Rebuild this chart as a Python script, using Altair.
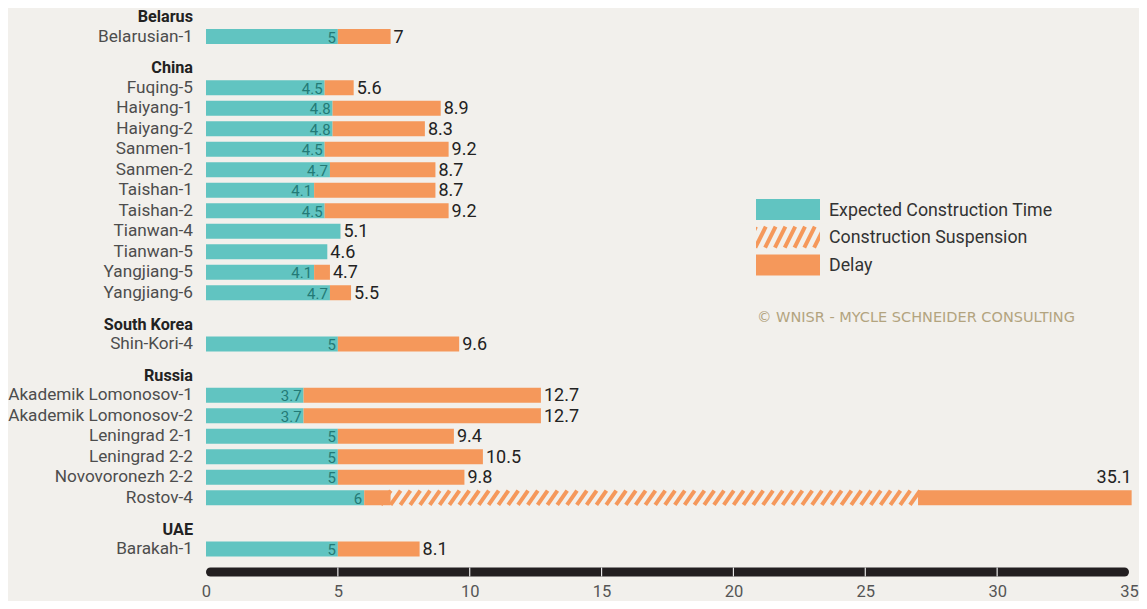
import altair as alt
import pandas as pd
import numpy as np

# ---------------- data ----------------
groups = ["Belarus", "China", "South Korea", "Russia", "UAE"]
plants = [
    ["Belarusian-1"],
    ["Fuqing-5", "Haiyang-1", "Haiyang-2", "Sanmen-1", "Sanmen-2", "Taishan-1",
     "Taishan-2", "Tianwan-4", "Tianwan-5", "Yangjiang-5", "Yangjiang-6"],
    ["Shin-Kori-4"],
    ["Akademik Lomonosov-1", "Akademik Lomonosov-2", "Leningrad 2-1",
     "Leningrad 2-2", "Novovoronezh 2-2", "Rostov-4"],
    ["Barakah-1"],
]
expected = [
    [5],
    [4.5, 4.8, 4.8, 4.5, 4.7, 4.1, 4.5, None, None, 4.1, 4.7],
    [5],
    [3.7, 3.7, 5, 5, 5, 6],
    [5],
]
total = [
    [7],
    [5.6, 8.9, 8.3, 9.2, 8.7, 8.7, 9.2, 5.1, 4.6, 4.7, 5.5],
    [9.6],
    [12.7, 12.7, 9.4, 10.5, 9.8, 35.1],
    [8.1],
]
suspension_plant = "Rostov-4"
suspension_range = [7, 27]

legend_labels = ["Expected Construction Time", "Construction Suspension", "Delay"]
x_ticks = [0, 5, 10, 15, 20, 25, 30, 35]
credit = "© WNISR - MYCLE SCHNEIDER CONSULTING"

# ---------------- styles ----------------
BG = "#f2f0ec"
TEAL = "#61c4c1"
ORANGE = "#f5985b"
DARK_TEAL = "#237a76"
FONT = "Roboto"

W = 923
H = 560
PX_PER_UNIT = W / 35.0
PITCH = 20.5          # pixels per row
TOP_PAD = 4

# ---------------- build tables ----------------
label_rows, seg_rows, plant_rows = [], [], []
p = 0.0
for g, names, exps, tots in zip(groups, plants, expected, total):
    label_rows.append({"label": g, "pos": p, "kind": "header"})
    p += 1
    for n, e, t in zip(names, exps, tots):
        label_rows.append({"label": n, "pos": p, "kind": "plant"})
        teal_end = e if e is not None else t
        seg_rows.append({"name": n, "pos": p, "start": 0, "end": teal_end, "kind": legend_labels[0]})
        if n == suspension_plant:
            seg_rows.append({"name": n, "pos": p, "start": teal_end, "end": suspension_range[0], "kind": legend_labels[2]})
            seg_rows.append({"name": n, "pos": p, "start": suspension_range[1], "end": t, "kind": legend_labels[2]})
            susp_pos = p
        elif t > teal_end:
            seg_rows.append({"name": n, "pos": p, "start": teal_end, "end": t, "kind": legend_labels[2]})
        plant_rows.append({"name": n, "pos": p, "expected": e, "total": t})
        p += 1
    p += 0.5

labels_df = pd.DataFrame(label_rows)
segs_df = pd.DataFrame(seg_rows)
plants_df = pd.DataFrame(plant_rows)

# stripes for suspension (decoration)
STEP_PX = 9.8
RUN_PX = 10.0
step_u = STEP_PX / PX_PER_UNIT
run_u = RUN_PX / PX_PER_UNIT
s_vals = np.arange(suspension_range[0] - step_u, suspension_range[1], step_u)
stripes_df = pd.DataFrame({"s": s_vals, "e": s_vals + run_u, "pos": susp_pos})

d0 = -(8.0 - TOP_PAD) / PITCH
d1 = d0 + H / PITCH

xscale = alt.Scale(domain=[0, 35], nice=False, zero=False, padding=0)
yscale = alt.Scale(domain=[d0, d1], reverse=True, nice=False, zero=False, padding=0)

xaxis = alt.Axis(values=x_ticks, domain=False, ticks=False, tickSize=0, grid=False,
                 labelFont=FONT, labelFontSize=16.5, labelColor="#555555",
                 labelPadding=11, labelFlush=False, title=None, format="d")

# ---------------- layers ----------------
stripes = alt.Chart(stripes_df).mark_rule(color=ORANGE, strokeWidth=4, strokeCap="butt",
                                          yOffset=7.2, y2Offset=-7.2).encode(
    x=alt.X("s:Q", scale=xscale, axis=xaxis),
    x2="e:Q",
    y=alt.Y("pos:Q", scale=yscale, axis=None),
    y2="pos:Q",
)

bars = alt.Chart(segs_df).mark_bar(orient="horizontal", size=15).encode(
    x=alt.X("start:Q", scale=xscale, axis=xaxis),
    x2="end:Q",
    y=alt.Y("pos:Q", scale=yscale, axis=None),
    color=alt.Color("kind:N", scale=alt.Scale(domain=legend_labels, range=[TEAL, ORANGE, ORANGE]), legend=None),
)

name_text = alt.Chart(labels_df).transform_filter("datum.kind == 'plant'").mark_text(
    align="right", baseline="middle", font=FONT, fontSize=17.2, color="#4d4d4d").encode(
    x=alt.value(-13), y=alt.Y("pos:Q", scale=yscale, axis=None), text="label:N")

header_text = alt.Chart(labels_df).transform_filter("datum.kind == 'header'").mark_text(
    align="right", baseline="middle", dy=1, font=FONT, fontSize=16.2, fontWeight="bold", color="#222222").encode(
    x=alt.value(-13), y=alt.Y("pos:Q", scale=yscale, axis=None), text="label:N")

inner_text = alt.Chart(plants_df).transform_filter("datum.expected != null").mark_text(
    align="right", baseline="middle", dx=-2, dy=1, font=FONT, fontSize=15, color=DARK_TEAL).encode(
    x=alt.X("expected:Q", scale=xscale, axis=xaxis), y=alt.Y("pos:Q", scale=yscale, axis=None),
    text=alt.Text("expected:Q"))

total_text = alt.Chart(plants_df).transform_filter("datum.total < 30").mark_text(
    align="left", baseline="middle", dx=3, dy=1, font=FONT, fontSize=18, color="#222222").encode(
    x=alt.X("total:Q", scale=xscale, axis=xaxis), y=alt.Y("pos:Q", scale=yscale, axis=None),
    text=alt.Text("total:Q"))

total_text_big = alt.Chart(plants_df).transform_filter("datum.total >= 30").mark_text(
    align="right", baseline="middle", dx=0, dy=-20, font=FONT, fontSize=18, color="#222222").encode(
    x=alt.X("total:Q", scale=xscale, axis=xaxis), y=alt.Y("pos:Q", scale=yscale, axis=None),
    text=alt.Text("total:Q"))

# axis bar
axis_df = pd.DataFrame({"a": [x_ticks[0]], "b": [x_ticks[-1]]})
axis_bar = alt.Chart(axis_df).mark_rule(color="#231f20", strokeWidth=9, strokeCap="round",
                                        xOffset=4.5, x2Offset=-4.5).encode(
    x=alt.X("a:Q", scale=xscale, axis=xaxis), x2="b:Q", y=alt.value(H))
tick_df = pd.DataFrame({"t": x_ticks[1:-1]})
axis_ticks = alt.Chart(tick_df).mark_rule(color="#e6e6e6", strokeWidth=1.2).encode(
    x=alt.X("t:Q", scale=xscale, axis=xaxis), y=alt.value(H - 4.5), y2=alt.value(H + 4.5))

# legend (manual, pixel positions relative to the plot area)
leg_df = pd.DataFrame({"label": legend_labels, "i": list(range(len(legend_labels)))})
LX0, LX1, LY0, LDY, LH = 550, 614, 187, 27.7, 21
leg_base = alt.Chart(leg_df).transform_calculate(
    y0=f"{LY0} + {LDY} * datum.i", y1=f"{LY0} + {LDY} * datum.i + {LH}",
    ym=f"{LY0} + {LDY} * datum.i + {LH / 2}")
leg_rects = leg_base.transform_filter("datum.i != 1").mark_rect().encode(
    x=alt.value(LX0), x2=alt.value(LX1),
    y=alt.Y("y0:Q", scale=None), y2="y1:Q",
    color=alt.Color("label:N", scale=alt.Scale(domain=legend_labels, range=[TEAL, ORANGE, ORANGE]), legend=None))
leg_text = leg_base.mark_text(align="left", baseline="middle", font=FONT, fontSize=17.8,
                              color="#333333", dx=0, dy=1).encode(
    x=alt.value(LX1 + 9), y=alt.Y("ym:Q", scale=None), text="label:N")

sy0 = LY0 + LDY
sy1 = sy0 + LH
run_leg = RUN_PX * LH / 15.0 * 0.75
ls = np.arange(LX0 - run_leg, LX1, STEP_PX)
leg_stripe_df = pd.DataFrame({"xa": ls, "xb": ls + run_leg, "ya": sy1, "yb": sy0})
leg_stripes = alt.Chart(leg_stripe_df).mark_rule(color=ORANGE, strokeWidth=4, strokeCap="butt").encode(
    x=alt.X("xa:Q", scale=None), x2="xb:Q", y=alt.Y("ya:Q", scale=None), y2="yb:Q")
mask_df = pd.DataFrame({"xa": [LX0 - 22, LX1], "xb": [LX0, LX1 + 8], "ya": [sy0 - 3, sy0 - 3], "yb": [sy1 + 3, sy1 + 3]})
leg_masks = alt.Chart(mask_df).mark_rect(color=BG).encode(
    x=alt.X("xa:Q", scale=None), x2="xb:Q", y=alt.Y("ya:Q", scale=None), y2="yb:Q")

credit_df = pd.DataFrame({"t": [credit]})
credit_text = alt.Chart(credit_df).mark_text(align="left", baseline="middle", font="DejaVu Sans", fontSize=14.5,
                                             color="#b3a47f").encode(
    x=alt.value(551), y=alt.value(306), text="t:N")

chart = alt.layer(
    stripes, bars, inner_text, total_text, total_text_big, name_text, header_text,
    axis_bar, axis_ticks, leg_rects, leg_stripes, leg_masks, leg_text, credit_text,
).properties(
    width=W, height=H, background=BG,
    padding={"left": 198, "top": TOP_PAD, "right": 10, "bottom": 29},
    autosize=alt.AutoSizeParams(type="none"),
).configure_view(stroke=None)

chart.save("out.html", embed_options={"renderer": "svg", "actions": False})
